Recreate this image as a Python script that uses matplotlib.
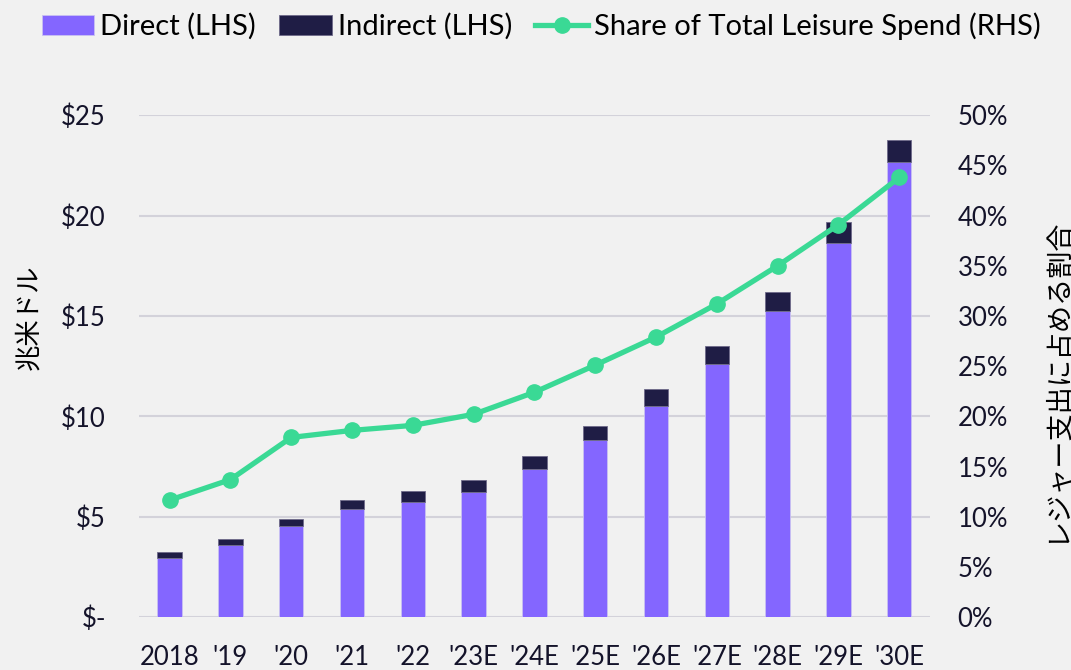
import matplotlib
matplotlib.use("Agg")
import matplotlib.pyplot as plt
from matplotlib.ticker import FuncFormatter

plt.rcParams['font.family'] = ['Lato', 'Noto Sans CJK JP', 'DejaVu Sans']

years = ["2018", "'19", "'20", "'21", "'22", "'23E", "'24E", "'25E",
         "'26E", "'27E", "'28E", "'29E", "'30E"]
direct = [2.94, 3.59, 4.53, 5.38, 5.73, 6.22, 7.37, 8.81, 10.51, 12.6, 15.24, 18.63, 22.66]
total = [3.24, 3.88, 4.88, 5.83, 6.27, 6.82, 8.02, 9.51, 11.35, 13.5, 16.2, 19.67, 23.75]
indirect = [t - d for t, d in zip(total, direct)]
share = [11.65, 13.7, 17.9, 18.6, 19.1, 20.2, 22.4, 25.1, 27.9, 31.2, 35.0, 39.1, 43.8]

bg = "#F1F1F1"
c_direct = "#8466FF"
c_indirect = "#1F1D45"
c_line = "#3AD995"
c_grid = "#D3D2DA"

fig = plt.figure(figsize=(10.71, 6.7), dpi=100, facecolor=bg)
ax = fig.add_axes([0.13, 0.079, 0.738, 0.749], facecolor=bg)
ax2 = ax.twinx()

x = list(range(len(years)))
b1 = ax.bar(x, direct, width=0.4, color=c_direct, edgecolor="#C9C1F2", linewidth=0.6,
            label="Direct (LHS)", zorder=2)
b2 = ax.bar(x, indirect, width=0.4, bottom=direct, color=c_indirect, edgecolor="#6E6A8A",
            linewidth=0.6, label="Indirect (LHS)", zorder=2)
l1, = ax2.plot(x, share, color=c_line, linewidth=3.8, marker="o", markersize=11,
               label="Share of Total Leisure Spend (RHS)", zorder=3)

ax.set_xlim(-0.5, 12.5)
ax.set_ylim(0, 25)
ax.set_yticks(range(0, 26, 5))
ax.yaxis.set_major_formatter(FuncFormatter(lambda v, p: "$-" if v == 0 else f"${v:.0f}"))
ax2.set_ylim(0, 50)
ax2.set_yticks(range(0, 51, 5))
ax2.yaxis.set_major_formatter(FuncFormatter(lambda v, p: f"{v:.0f}%"))

ax.set_xticks(x)
ax.set_xticklabels(years)
ax.grid(axis="y", color=c_grid, linewidth=1.5, zorder=0)
ax.set_axisbelow(True)

for a in (ax, ax2):
    for s in a.spines.values():
        s.set_visible(False)
    a.tick_params(length=0, labelsize=18.5, colors="#14132A")
ax.tick_params(axis="y", pad=24)
ax.tick_params(axis="x", pad=20)
ax2.tick_params(axis="y", pad=20)

ax.set_ylabel("兆米ドル", fontsize=19, family=['Noto Sans CJK JP', 'DejaVu Sans'])
ax.yaxis.set_label_coords(-0.123, 0.598)
ax2.set_ylabel("レジャー支出に占める割合", fontsize=19.5, family=['Noto Sans CJK JP', 'DejaVu Sans'])
ax2.yaxis.set_label_coords(1.143, 0.472)

fig.legend(handles=[b1, b2, l1], loc="upper left", bbox_to_anchor=(0.02, 1.012), ncol=3,
           frameon=False, fontsize=21, handlelength=1.8, handletextpad=0.2,
           columnspacing=0.8, borderaxespad=0.3)

fig.savefig("out.png", dpi=100, facecolor=bg)
